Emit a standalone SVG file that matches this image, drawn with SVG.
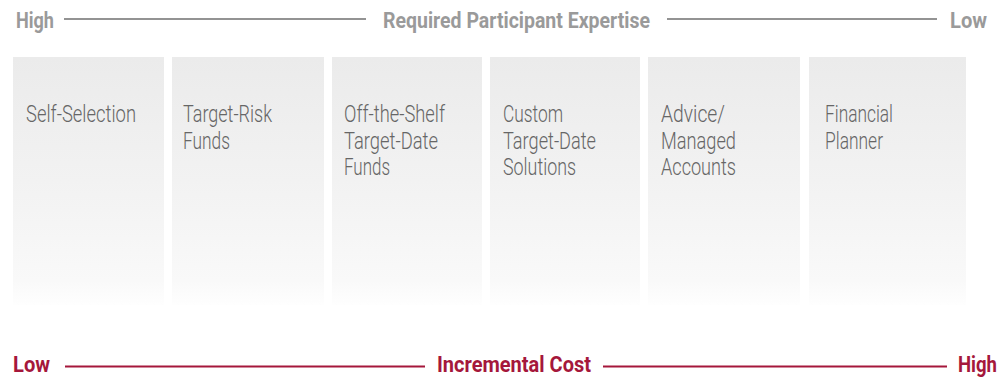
<svg xmlns="http://www.w3.org/2000/svg" width="1005" height="378" viewBox="0 0 1005 378">
<defs>
<linearGradient id="colg" x1="0" y1="0" x2="0" y2="1">
<stop offset="0" stop-color="#ebebeb"/>
<stop offset="0.5" stop-color="#f2f2f2"/>
<stop offset="0.9" stop-color="#f9f9f9"/>
<stop offset="1" stop-color="#fefefe"/>
</linearGradient>
<style>
.col{fill:url(#colg);}
.lbl{font-family:Roboto,"Liberation Sans",sans-serif;font-weight:300;font-size:23px;fill:#666666;}
.hd{font-family:Roboto,"Liberation Sans",sans-serif;font-weight:700;font-size:21.5px;}
.gray{fill:#9a9a9a;}
.red{fill:#a5173b;}
.gl{stroke:#939393;stroke-width:2;}
.rl{stroke:#a5173b;stroke-width:2;}
</style>
</defs>
<rect width="1005" height="378" fill="#ffffff"/>
<g id="axis-top">
<text class="hd gray" x="16" y="28" textLength="38" lengthAdjust="spacingAndGlyphs">High</text>
<text class="hd gray" x="383" y="28" textLength="267" lengthAdjust="spacingAndGlyphs">Required Participant Expertise</text>
<text class="hd gray" x="950" y="28" textLength="37" lengthAdjust="spacingAndGlyphs">Low</text>
</g>
<g id="axis-bottom">
<text class="hd red" x="13" y="372" textLength="37" lengthAdjust="spacingAndGlyphs">Low</text>
<text class="hd red" x="437" y="372" textLength="154" lengthAdjust="spacingAndGlyphs">Incremental Cost</text>
<text class="hd red" x="958" y="372" textLength="39" lengthAdjust="spacingAndGlyphs">High</text>
</g>
<g id="connectors">
<line class="gl" x1="64" y1="19" x2="366" y2="19"/>
<line class="gl" x1="667" y1="19" x2="937" y2="19"/>
<line class="rl" x1="65" y1="366.5" x2="425" y2="366.5"/>
<line class="rl" x1="603" y1="366.5" x2="947" y2="366.5"/>
</g>
<g id="node-self-selection">
<rect class="col" x="13" y="57" width="151" height="248"/>
<text class="lbl" x="26" y="122" textLength="110" lengthAdjust="spacingAndGlyphs">Self-Selection</text>
</g>
<g id="node-target-risk">
<rect class="col" x="172" y="57" width="152" height="248"/>
<text class="lbl" x="183" y="122" textLength="89" lengthAdjust="spacingAndGlyphs">Target-Risk</text>
<text class="lbl" x="183" y="148.5" textLength="47" lengthAdjust="spacingAndGlyphs">Funds</text>
</g>
<g id="node-off-the-shelf">
<rect class="col" x="332" y="57" width="150" height="248"/>
<text class="lbl" x="344" y="122" textLength="101" lengthAdjust="spacingAndGlyphs">Off-the-Shelf</text>
<text class="lbl" x="344" y="148.5" textLength="94" lengthAdjust="spacingAndGlyphs">Target-Date</text>
<text class="lbl" x="344" y="174.5" textLength="46" lengthAdjust="spacingAndGlyphs">Funds</text>
</g>
<g id="node-custom">
<rect class="col" x="490" y="57" width="150" height="248"/>
<text class="lbl" x="503" y="122" textLength="60" lengthAdjust="spacingAndGlyphs">Custom</text>
<text class="lbl" x="503" y="148.5" textLength="93" lengthAdjust="spacingAndGlyphs">Target-Date</text>
<text class="lbl" x="503" y="174.5" textLength="73" lengthAdjust="spacingAndGlyphs">Solutions</text>
</g>
<g id="node-advice">
<rect class="col" x="648" y="57" width="152" height="248"/>
<text class="lbl" x="661" y="122" textLength="64" lengthAdjust="spacingAndGlyphs">Advice/</text>
<text class="lbl" x="661" y="148.5" textLength="75" lengthAdjust="spacingAndGlyphs">Managed</text>
<text class="lbl" x="661" y="174.5" textLength="75" lengthAdjust="spacingAndGlyphs">Accounts</text>
</g>
<g id="node-financial-planner">
<rect class="col" x="809" y="57" width="157" height="248"/>
<text class="lbl" x="825" y="122" textLength="68" lengthAdjust="spacingAndGlyphs">Financial</text>
<text class="lbl" x="825" y="148.5" textLength="58" lengthAdjust="spacingAndGlyphs">Planner</text>
</g>
</svg>
